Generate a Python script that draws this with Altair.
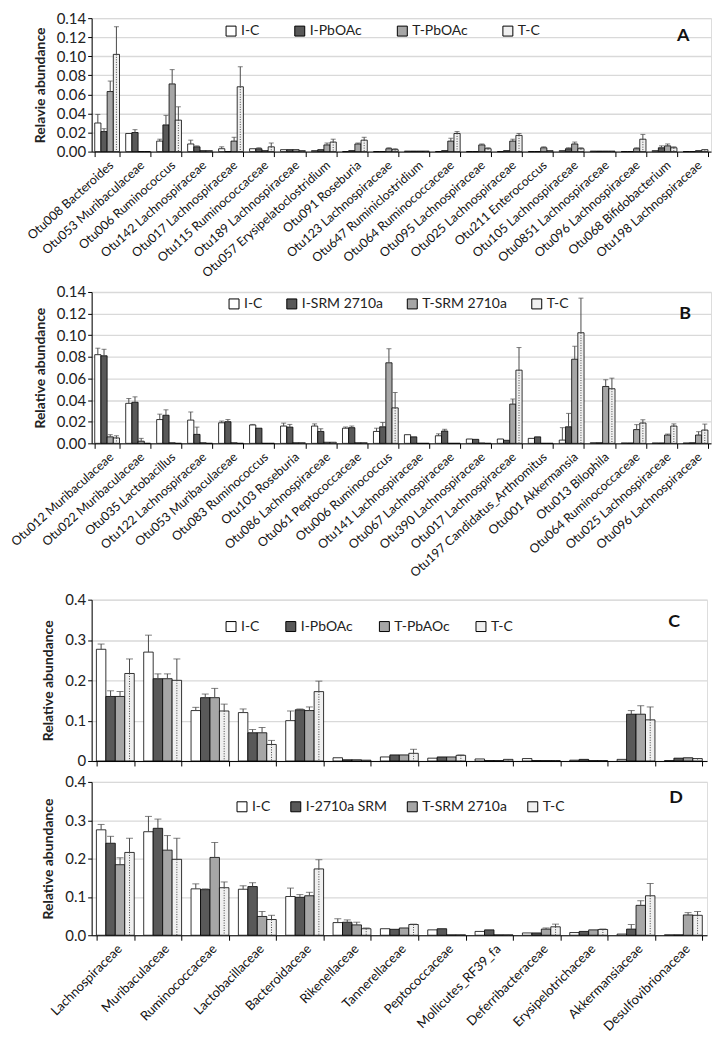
import altair as alt
import pandas as pd

FONT = "Lato"

# ---------------- Panel A ----------------
A_cats = ["Otu008 Bacteroides", "Otu053 Muribaculaceae", "Otu006 Ruminococcus",
          "Otu142 Lachnospiraceae", "Otu017 Lachnospiraceae", "Otu115 Ruminococcaceae",
          "Otu189 Lachnospiraceae", "Otu057 Erysipelatoclostridium", "Otu091 Roseburia",
          "Otu123 Lachnospiraceae", "Otu647 Ruminiclostridium", "Otu064 Ruminococcaceae",
          "Otu095 Lachnospiraceae", "Otu025 Lachnospiraceae", "Otu211 Enterococcus",
          "Otu105 Lachnospiraceae", "Otu0851 Lachnospiraceae", "Otu096 Lachnospiraceae",
          "Otu068 Bifidobacterium", "Otu198 Lachnospiraceae"]
A_series = ["I-C", "I-PbOAc", "T-PbOAc", "T-C"]
A_IC = [0.030, 0.019, 0.011, 0.008, 0.003, 0.003, 0.002, 0.001, 0.000, 0.000,
        0.0005, 0.000, 0.000, 0.000, 0.000, 0.001, 0.0005, 0.000, 0.001, 0.000]
A_IC_err = [0.009, 0, 0.002, 0.004, 0.002, 0, 0, 0, 0, 0, 0, 0, 0, 0, 0, 0, 0, 0, 0, 0]
A_IP = [0.021, 0.020, 0.028, 0.005, 0.000, 0.003, 0.002, 0.002, 0.001, 0.000,
        0.0005, 0.001, 0.000, 0.001, 0.000, 0.003, 0.0005, 0.000, 0.004, 0.000]
A_IP_err = [0.003, 0.003, 0.010, 0.001, 0, 0.001, 0, 0, 0, 0, 0, 0, 0, 0, 0, 0.001, 0, 0, 0.002, 0]
A_TP = [0.063, 0.000, 0.071, 0.001, 0.011, 0.001, 0.002, 0.007, 0.008, 0.003,
        0.0005, 0.011, 0.007, 0.011, 0.004, 0.008, 0.0005, 0.003, 0.006, 0.001]
A_TP_err = [0.011, 0, 0.015, 0, 0.004, 0, 0, 0.002, 0.001, 0.001, 0, 0.003, 0.001, 0.002,
            0.001, 0.002, 0, 0.001, 0.002, 0]
A_TC = [0.102, 0.000, 0.033, 0.001, 0.068, 0.005, 0.001, 0.010, 0.012, 0.002,
        0.0005, 0.019, 0.003, 0.017, 0.001, 0.003, 0.0005, 0.013, 0.004, 0.002]
A_TC_err = [0.029, 0, 0.014, 0, 0.021, 0.004, 0, 0.003, 0.003, 0.001, 0, 0.002, 0.001, 0.002,
            0, 0.001, 0, 0.005, 0.001, 0]

# ---------------- Panel B ----------------
B_cats = ["Otu012 Muribaculaceae", "Otu022 Muribaculaceae", "Otu035 Lactobacillus",
          "Otu122 Lachnospiraceae", "Otu053 Muribaculaceae", "Otu083 Ruminococcus",
          "Otu103 Roseburia", "Otu086 Lachnospiraceae", "Otu061 Peptococcaceae",
          "Otu006 Ruminococcus", "Otu141 Lachnospiraceae", "Otu067 Lachnospiraceae",
          "Otu390 Lachnospiraceae", "Otu017 Lachnospiraceae", "Otu197 Candidatus_Arthromitus",
          "Otu001 Akkermansia", "Otu013 Bilophila", "Otu064 Ruminococcaceae",
          "Otu025 Lachnospiraceae", "Otu096 Lachnospiraceae"]
B_series = ["I-C", "I-SRM 2710a", "T-SRM 2710a", "T-C"]
B_IC = [0.082, 0.037, 0.022, 0.0215, 0.019, 0.017, 0.016, 0.016, 0.014, 0.011,
        0.008, 0.007, 0.004, 0.004, 0.0046, 0.003, 0.0005, 0.0003, 0.0003, 0.0003]
B_IC_err = [0.006, 0.0045, 0.005, 0.0075, 0.0016, 0.0005, 0.0027, 0.002, 0.001, 0.003,
            0, 0.0018, 0, 0, 0, 0.0115, 0, 0, 0, 0]
B_IS = [0.081, 0.038, 0.026, 0.0083, 0.020, 0.014, 0.015, 0.011, 0.0145, 0.0153,
        0.006, 0.0114, 0.0037, 0.0028, 0.006, 0.0153, 0.0005, 0.0003, 0.0003, 0.0005]
B_IS_err = [0.006, 0.005, 0.005, 0.0067, 0.002, 0, 0.0025, 0.0025, 0.0015, 0.004,
            0, 0.0016, 0, 0, 0, 0.0124, 0, 0, 0, 0]
B_TS = [0.006, 0.002, 0.0005, 0.0005, 0.0005, 0.0, 0.0005, 0.001, 0.0005, 0.0745,
        0.0, 0.0, 0.0003, 0.0363, 0.0, 0.0778, 0.0526, 0.0127, 0.0077, 0.0077]
B_TS_err = [0.002, 0.0026, 0, 0, 0, 0, 0, 0, 0, 0.013,
            0, 0, 0, 0.0047, 0, 0.012, 0.0062, 0.0046, 0.0009, 0.0031]
B_TC = [0.005, 0.0, 0.0, 0.0, 0.0, 0.0, 0.0005, 0.001, 0.0005, 0.0328,
        0.0, 0.0, 0.0, 0.0677, 0.0, 0.1023, 0.0505, 0.0188, 0.016, 0.0123]
B_TC_err = [0.002, 0, 0, 0, 0, 0, 0, 0, 0, 0.0142,
            0, 0, 0, 0.0209, 0, 0.032, 0.0098, 0.003, 0.002, 0.0055]

# ---------------- Panels C and D ----------------
F_cats = ["Lachnospiraceae", "Muribaculaceae", "Ruminococcaceae", "Lactobacillaceae",
          "Bacteroidaceae", "Rikenellaceae", "Tannerellaceae", "Peptococcaceae",
          "Mollicutes_RF39_fa", "Deferribacteraceae", "Erysipelotrichaceae",
          "Akkermansiaceae", "Desulfovibrionaceae"]

C_series = ["I-C", "I-PbOAc", "T-PbAOc", "T-C"]
C_IC = [0.277, 0.270, 0.125, 0.120, 0.100, 0.008, 0.010, 0.007, 0.005, 0.006, 0.002, 0.004, 0.001]
C_IC_err = [0.013, 0.042, 0.008, 0.009, 0.024, 0, 0, 0, 0, 0, 0, 0, 0]
C_IP = [0.160, 0.204, 0.157, 0.070, 0.127, 0.003, 0.015, 0.010, 0.001, 0.001, 0.004, 0.116, 0.007]
C_IP_err = [0.014, 0.012, 0.009, 0.008, 0.002, 0, 0, 0, 0, 0, 0, 0.009, 0]
C_TP = [0.160, 0.204, 0.157, 0.070, 0.125, 0.003, 0.015, 0.010, 0.001, 0.001, 0.001, 0.116, 0.008]
C_TP_err = [0.012, 0.012, 0.023, 0.013, 0.009, 0, 0, 0, 0, 0, 0, 0.021, 0]
C_TC = [0.217, 0.200, 0.124, 0.041, 0.172, 0.002, 0.019, 0.014, 0.004, 0.001, 0.001, 0.102, 0.006]
C_TC_err = [0.036, 0.053, 0.017, 0.010, 0.026, 0, 0.010, 0.001, 0, 0, 0, 0.032, 0]

D_series = ["I-C", "I-2710a SRM", "T-SRM 2710a", "T-C"]
D_IC = [0.275, 0.270, 0.121, 0.120, 0.101, 0.033, 0.017, 0.014, 0.010, 0.006, 0.007, 0.003, 0.001]
D_IC_err = [0.014, 0.040, 0.013, 0.009, 0.022, 0.010, 0, 0, 0, 0, 0, 0, 0]
D_IS = [0.240, 0.279, 0.119, 0.127, 0.099, 0.034, 0.0155, 0.017, 0.014, 0.006, 0.010, 0.016, 0.001]
D_IS_err = [0.018, 0.024, 0.002, 0.010, 0.007, 0.006, 0, 0, 0, 0, 0, 0.012, 0]
D_TS = [0.184, 0.222, 0.203, 0.049, 0.103, 0.027, 0.019, 0.001, 0.001, 0.016, 0.014, 0.078, 0.053]
D_TS_err = [0.018, 0.038, 0.039, 0.013, 0.009, 0.007, 0, 0, 0, 0.003, 0, 0.012, 0.006]
D_TC = [0.216, 0.198, 0.124, 0.041, 0.173, 0.017, 0.028, 0.001, 0.001, 0.022, 0.015, 0.103, 0.052]
D_TC_err = [0.037, 0.055, 0.015, 0.011, 0.024, 0.002, 0.001, 0, 0, 0.007, 0.001, 0.032, 0.010]

FILLS = ["#ffffff", "#595959", "#a6a6a6", "#f0f0f0"]


def panel(cats, series, vals, errs, ymax, yticks, ytitle, letter, width, height,
          legend_x, legend_y, legend_pad, letter_x, letter_y, label_angle, label_size,
          show_labels, yfmt_expr, cap, spacer=None):
    rows = []
    for s, v, e in zip(series, vals, errs):
        for c, vv, ee in zip(cats, v, e):
            rows.append(dict(cat=c, series=s, value=vv, err=ee, top=vv + ee))
    df = pd.DataFrame(rows)
    base = alt.Chart(df)

    xenc = alt.X("cat:N", sort=cats,
                 scale=alt.Scale(paddingInner=0.2, paddingOuter=0.1),
                 axis=alt.Axis(title=None, labels=show_labels, labelAngle=-label_angle,
                               tickBand="extent", tickSize=5, tickColor="black",
                               domainColor="black", labelFont=FONT,
                               labelFontSize=label_size, labelColor="#111",
                               labelLimit=400, labelPadding=2, grid=False))
    xoff = alt.XOffset("series:N", sort=series,
                       scale=alt.Scale(domain=series, paddingInner=0, paddingOuter=0))
    yscale = alt.Scale(domain=[0, ymax], nice=False)
    yaxis = alt.Axis(title=ytitle, values=yticks, labelExpr=yfmt_expr,
                     labelOverlap=False,
                     labelFont=FONT, labelFontSize=15, labelColor="#222",
                     titleFont=FONT, titleFontSize=14, titleFontWeight="bold",
                     titleColor="#222", titlePadding=9,
                     tickSize=4, tickColor="black", domainColor="black",
                     grid=True, gridColor="#d9d9d9", gridWidth=1.3)

    bars = base.mark_bar(stroke="black", strokeWidth=0.8).encode(
        x=xenc, xOffset=xoff, y=alt.Y("value:Q", scale=yscale, axis=yaxis),
        fill=alt.Fill("series:N", sort=series,
                      scale=alt.Scale(domain=series, range=FILLS),
                      legend=alt.Legend(title=None, orient="none", legendX=legend_x,
                                        legendY=legend_y, direction="horizontal",
                                        columns=4, symbolType="square", symbolSize=100,
                                        symbolStrokeColor="black", symbolStrokeWidth=1,
                                        labelFont=FONT, labelFontSize=14,
                                        labelColor="#222", labelOffset=3,
                                        columnPadding=legend_pad)))
    dots = base.transform_filter(alt.datum.series == series[3]).mark_rule(
        color="#444", strokeWidth=1, strokeDash=[1, 1.5]).encode(
        x=xenc, xOffset=xoff, y=alt.Y("value:Q", scale=yscale, axis=yaxis),
        y2=alt.datum(0))
    err_rule = base.transform_filter(alt.datum.err > 0).mark_rule(
        color="#4a4a4a", strokeWidth=1).encode(
        x=xenc, xOffset=xoff, y=alt.Y("value:Q", scale=yscale, axis=yaxis), y2="top:Q")
    err_cap = base.transform_filter(alt.datum.err > 0).mark_tick(
        color="#4a4a4a", thickness=1, size=cap).encode(
        x=xenc, xOffset=xoff, y=alt.Y("top:Q", scale=yscale, axis=yaxis))
    lab = alt.Chart(pd.DataFrame({"t": [letter]})).mark_text(
        font=FONT, fontSize=18, fontWeight="bold", color="#111").encode(
        text="t:N", x=alt.value(letter_x), y=alt.value(letter_y))

    props = dict(width=width, height=height)
    if spacer:
        props["title"] = alt.TitleParams(text=" ", fontSize=spacer[0], offset=spacer[1])
    return alt.layer(bars, dots, err_rule, err_cap, lab).properties(**props)


fmt2 = "format(datum.value, '.2f')"
chartA = panel(A_cats, A_series, [A_IC, A_IP, A_TP, A_TC],
               [A_IC_err, A_IP_err, A_TP_err, A_TC_err],
               0.14, [0, 0.02, 0.04, 0.06, 0.08, 0.10, 0.12, 0.14],
               "Relavie abundance", "A", 622, 134, 133, 6, 33, 594, 18, 42, 12.5, True,
               fmt2, 5)
chartB = panel(B_cats, B_series, [B_IC, B_IS, B_TS, B_TC],
               [B_IC_err, B_IS_err, B_TS_err, B_TC_err],
               0.14, [0, 0.02, 0.04, 0.06, 0.08, 0.10, 0.12, 0.14],
               "Relative abundance", "B", 622, 152, 136, 5, 22, 596, 22, 42, 12.5, True,
               fmt2, 5)
chartC = panel(F_cats, C_series, [C_IC, C_IP, C_TP, C_TC],
               [C_IC_err, C_IP_err, C_TP_err, C_TC_err],
               0.4, [0, 0.1, 0.2, 0.3, 0.4],
               "Relative abundance", "C", 618, 162, 133, 20, 24, 585, 22, 45, 14, False,
               "datum.value == 0 ? '0' : format(datum.value, '.1f')", 7, spacer=(8, 0))
chartD = panel(F_cats, D_series, [D_IC, D_IS, D_TS, D_TC],
               [D_IC_err, D_IS_err, D_TS_err, D_TC_err],
               0.4, [0, 0.1, 0.2, 0.3, 0.4],
               "Relative abundance", "D", 618, 154, 144, 18, 18, 587, 16, 45, 13, True,
               "format(datum.value, '.1f')", 7)

chart = alt.vconcat(chartA, chartB, chartC, chartD, spacing=4).resolve_scale(
    x="independent", y="independent", fill="independent", xOffset="independent"
).resolve_legend(fill="independent").configure_view(
    stroke="black", strokeWidth=1
).configure(font=FONT, padding={"left": 0, "top": 0, "right": 0, "bottom": 0})

chart.save("out.html", embed_options={"renderer": "svg", "actions": False})
